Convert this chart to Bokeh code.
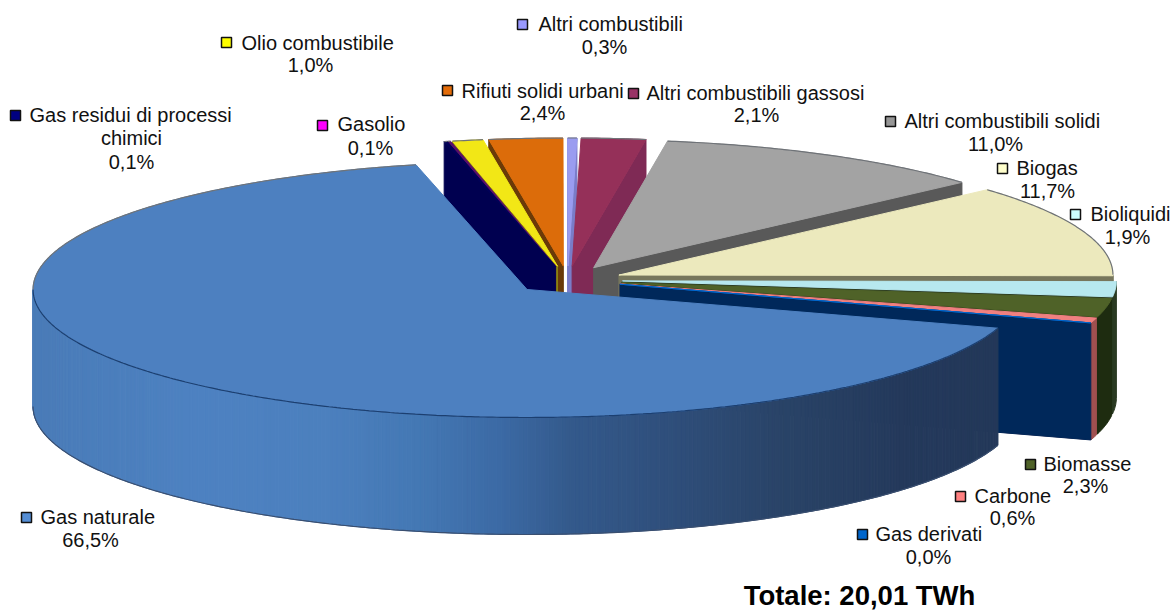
import numpy as np
from bokeh.plotting import figure
from bokeh.models import Range1d
from bokeh.core.properties import value
from bokeh.embed import file_html
from bokeh.resources import INLINE

# ---- data, in clockwise order ----
names = ["Gas residui di processi chimici", "Gasolio", "Olio combustibile", "Rifiuti solidi urbani",
         "Altri combustibili", "Altri combustibili gassosi", "Altri combustibili solidi", "Biogas",
         "Bioliquidi", "Biomasse", "Carbone", "Gas derivati", "Gas naturale"]
shares = [0.1, 0.1, 1.0, 2.4, 0.3, 2.1, 11.0, 11.7, 1.9, 2.3, 0.6, 0.0, 66.5]
total_label = "Totale: 20,01 TWh"

# ---- styles ----
top_colors = ["#000058", "#5a0f6a", "#f2e716", "#dc6c0a", "#9a9cf0", "#953059", "#a3a3a3", "#ece9bd",
              "#b7e8ef", "#4f6228", "#f08080", "#0066cc", "#4d80c0"]
key_colors = ["#000080", "#ff00ff", "#ffff00", "#e36c09", "#9999ff", "#993366", "#969696", "#ffffcc",
              "#ccffff", "#4f6228", "#ff8080", "#0066cc", "#558ed5"]
wall_colors = ["#000050", "#3a0050", "#8a8210", "#6a3a08", "#7a7cc8", "#7f2a55", "#595959", "#77765c",
               "#2a3a22", "#1e2c10", "#a05050", "#00285a", "#4d80c0"]
wall_x = [33, 200, 330, 420, 500, 570, 660, 780, 900, 998]
wall_rgb = [(74, 124, 184), (78, 130, 194), (76, 128, 190), (68, 120, 180), (60, 106, 165),
            (52, 90, 140), (48, 80, 125), (42, 68, 104), (37, 58, 92), (36, 57, 90)]

# ---- geometry of the pie ----
START = -13.0
RX, RY = 494.0, 128.0
CX, CY = 567.0, 279.5
EX, EY = 55.0, 14.0
H = 117.0

def rim(ax, ay, a):
    t = np.radians(a)
    return ax + RX * np.sin(t), ay - RY * np.cos(t)

xs, ys, fills, lines, widths = [], [], [], [], []
def add(x, y, fill, line=None, w=1.0):
    xs.append(list(map(float, x))); ys.append(list(map(float, y)))
    fills.append(fill); lines.append(line or fill); widths.append(w)

cum = np.cumsum([0] + shares) * 3.6 + START
spans = [(cum[i], cum[i + 1]) for i in range(len(shares))]
draw_order = [3, 2, 1, 0, 4, 5, 6, 7, 8, 9, 10, 11, 12]

rim_lines = []
for i in draw_order:
    a0, a1 = spans[i]
    mid = (a0 + a1) / 2
    ax = CX + EX * np.sin(np.radians(mid))
    ay = CY - EY * np.cos(np.radians(mid))
    n = max(2, int((a1 - a0) * 2) + 2)
    arc = np.linspace(a0, a1, n)
    rx, ry = rim(ax, ay, arc)
    is_main = names[i] == "Gas naturale"
    # cut faces that look toward the viewer
    if -180 < a0 < 0:
        ex, ey = rim(ax, ay, a0)
        add([ax, ex, ex, ax], [ay, ey, ey + H, ay + H], wall_colors[i])
    if 0 <= a1 < 180 and not is_main:
        ex, ey = rim(ax, ay, a1)
        add([ax, ex, ex, ax], [ay, ey, ey + H, ay + H], wall_colors[i])
    # outer wall
    lo, hi = max(a0, 90), min(a1, 270)
    if hi > lo:
        w = np.linspace(lo, hi, max(3, int((hi - lo) * 2)))
        wx, wy = rim(ax, ay, w)
        if is_main:
            for k in range(len(w) - 1):
                xm = (wx[k] + wx[k + 1]) / 2
                r, g, b = [int(np.interp(xm, wall_x, [c[j] for c in wall_rgb])) for j in range(3)]
                col = f"#{r:02x}{g:02x}{b:02x}"
                add([wx[k], wx[k + 1], wx[k + 1], wx[k]],
                    [wy[k], wy[k + 1], wy[k + 1] + H, wy[k] + H], col)
            rim_lines.append((wx, wy, "#1c3f70"))
            rim_lines.append((wx, wy + H, "#3a4f70"))
        else:
            add(list(wx) + list(wx[::-1]), list(wy) + list(wy[::-1] + H), wall_colors[i])
    # top face
    add([ax] + list(rx), [ay] + list(ry), top_colors[i])
    back = arc[(arc >= 270) | (arc < 90)]
    if len(back) > 1:
        bx, by = rim(ax, ay, back)
        rim_lines.append((bx, by, "#6f7378"))

W, HT = 1170, 610
p = figure(width=W, height=HT, output_backend="svg", toolbar_location=None,
           x_range=Range1d(0, W), y_range=Range1d(HT, 0),
           min_border=0, outline_line_color=None, background_fill_color="white")
p.axis.visible = False
p.grid.visible = False

p.patches(xs, ys, fill_color=fills, line_color=lines, line_width=widths)
for lx, ly, col in rim_lines:
    p.line(list(map(float, lx)), list(map(float, ly)), line_color=col, line_width=1.2)

# ---- labels ----
# name index: key x/y, name-line start x/y, percent centre x/y
label_pos = {
    0: (15, 115, 29, 114, 131, 161),
    1: (322, 125, 337, 123, 370, 147),
    2: (226, 42, 241, 42, 310, 64),
    3: (447, 90, 461, 90, 542, 112),
    4: (522, 24, 538, 23, 604, 46),
    5: (633, 93, 646, 92, 756, 114),
    6: (890, 121, 904, 120, 995, 143),
    7: (1002, 168, 1016, 167, 1047, 190),
    8: (1075, 214, 1090, 213, 1127, 236),
    9: (1030, 464, 1043, 463, 1085, 485),
    10: (960, 496, 974, 495, 1012, 517),
    11: (862, 534, 875, 533, 928, 556),
    12: (26, 517, 40, 516, 90, 539),
}
FONT = value("Liberation Sans")
FS = "20px"
for i, (kx, ky, tx, ty, px, py) in label_pos.items():
    p.scatter([kx], [ky], marker="square", size=10, fill_color=key_colors[i],
              line_color="#111111", line_width=1.5)
    first = names[i]
    if i == 0:
        first = "Gas residui di processi"
        p.text([px], [137], text=["chimici"], text_font=FONT, text_font_size=FS,
               text_align="center", text_baseline="middle", text_color="#111111")
    p.text([tx], [ty], text=[first], text_font=FONT, text_font_size=FS,
           text_align="left", text_baseline="middle", text_color="#111111")
    p.text([px], [py], text=[f"{shares[i]:.1f}%".replace(".", ",")], text_font=FONT, text_font_size=FS,
           text_align="center", text_baseline="middle", text_color="#111111")

p.text([859], [595], text=[total_label], text_font=FONT, text_font_size="27.5px", text_font_style="bold",
       text_align="center", text_baseline="middle", text_color="#000000")

open("out.html", "w").write(file_html(p, INLINE))
